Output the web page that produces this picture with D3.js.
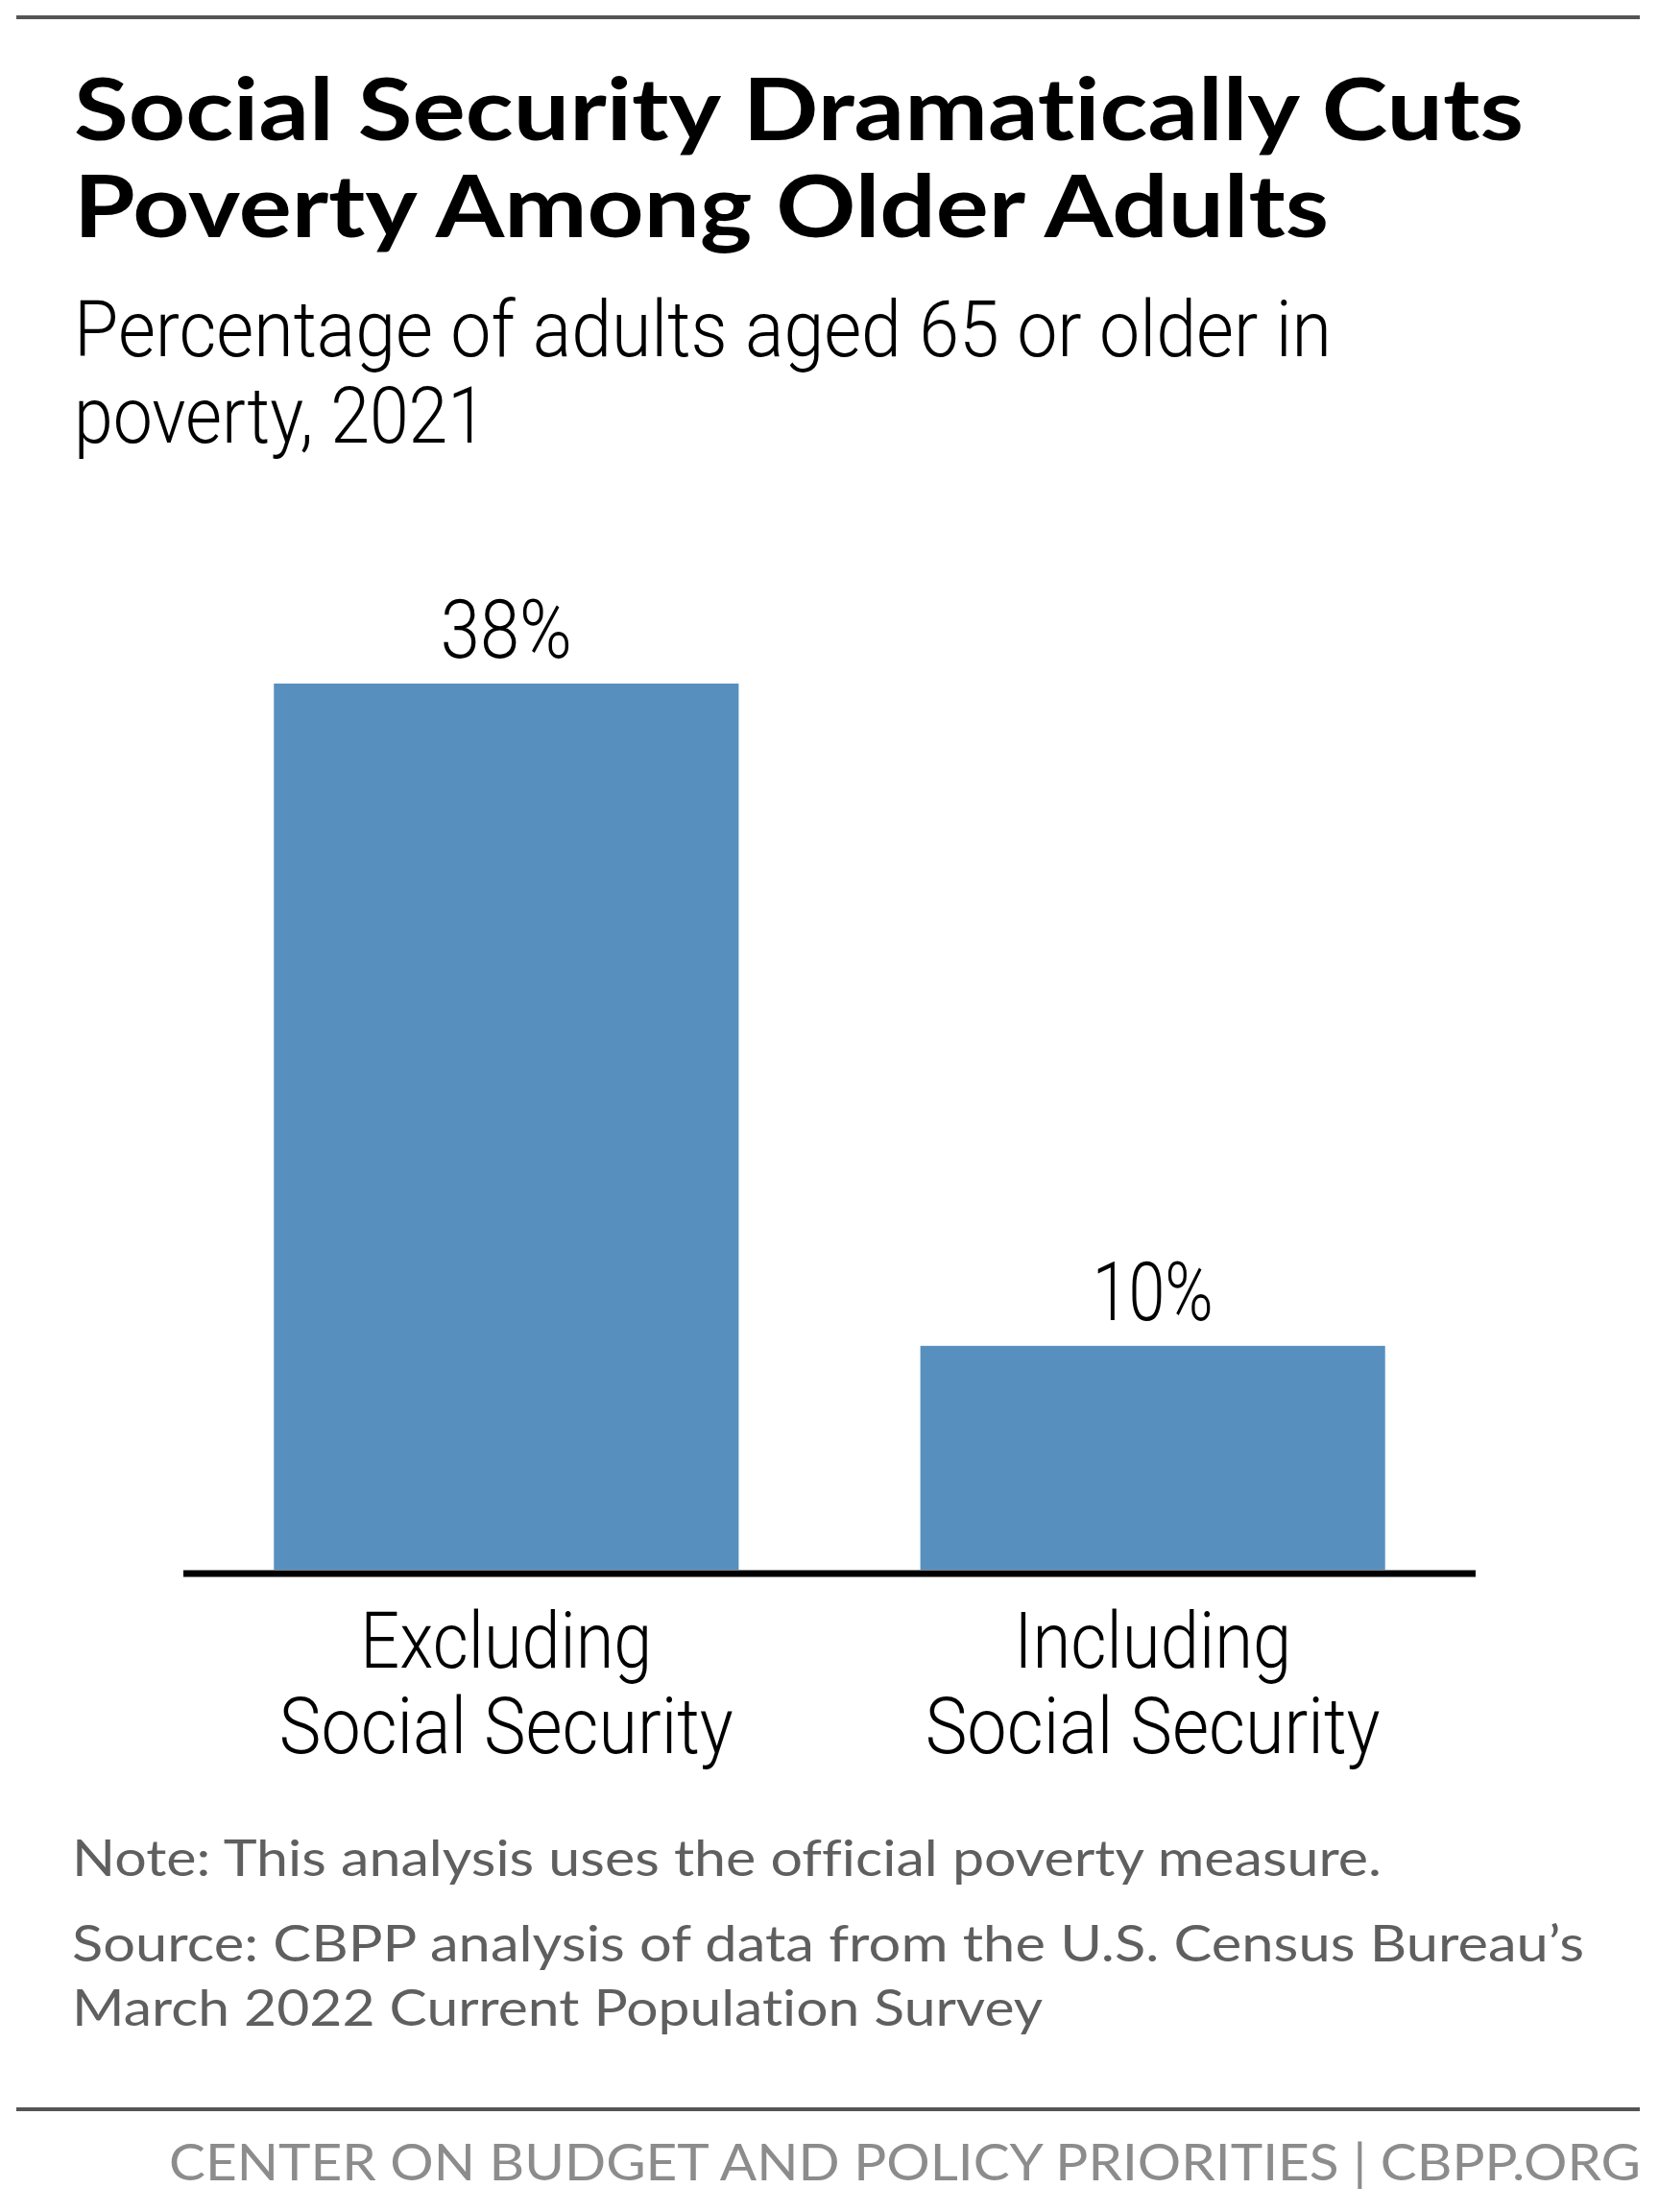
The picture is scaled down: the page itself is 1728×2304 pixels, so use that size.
<!DOCTYPE html>
<html>
<head>
<meta charset="utf-8">
<script src="https://cdn.jsdelivr.net/npm/d3@7"></script>
<style>
  body { margin: 0; background: #fff; }
  svg { display: block; }
  text { font-variant-ligatures: none; font-feature-settings: "liga" 0, "clig" 0; }
</style>
</head>
<body>
<svg id="chart" width="1728" height="2304"></svg>
<script>
// data
const categories = [["Excluding", "Social Security"], ["Including", "Social Security"]];
const values = [38, 9.6];
const titleLines = ["Social Security Dramatically Cuts", "Poverty Among Older Adults"];
const subtitleLines = ["Percentage of adults aged 65 or older in", "poverty, 2021"];
const noteLines = ["Note: This analysis uses the official poverty measure."];
const sourceLines = ["Source: CBPP analysis of data from the U.S. Census Bureau\u2019s", "March 2022 Current Population Survey"];
const footer = "CENTER ON BUDGET AND POLICY PRIORITIES | CBPP.ORG";

const width = 1728, height = 2304;
const svg = d3.select("#chart");

svg.append("rect").attr("width", width).attr("height", height).attr("fill", "#fff");

// squeeze text to the width seen in the original
function fit(sel, w) {
  sel.attr("textLength", w).attr("lengthAdjust", "spacingAndGlyphs");
}

// top and bottom rules
svg.append("line").attr("x1", 17).attr("x2", 1708).attr("y1", 18).attr("y2", 18)
  .attr("stroke", "#555").attr("stroke-width", 4);
svg.append("line").attr("x1", 17).attr("x2", 1708).attr("y1", 2197).attr("y2", 2197)
  .attr("stroke", "#555").attr("stroke-width", 4);

// title
const titleW = [1510, 1307];
titleLines.forEach((t, i) => {
  svg.append("text").attr("x", 77).attr("y", 146 + i * 101)
    .attr("font-family", "Lato, 'Open Sans', sans-serif").attr("font-weight", 700)
    .attr("font-size", 90).attr("fill", "#000").text(t)
    .call(fit, titleW[i]);
});

// subtitle
const subW = [1310, 430];
subtitleLines.forEach((t, i) => {
  svg.append("text").attr("x", 77).attr("y", 371 + i * 90)
    .attr("font-family", "Roboto, sans-serif").attr("font-weight", 300)
    .attr("font-size", 81).attr("fill", "#000").text(t)
    .call(fit, subW[i]);
});

// scales
const x = d3.scaleBand(d3.range(values.length), [191, 1537])
  .paddingInner(0.281).paddingOuter(0.14);
const y = d3.scaleLinear([0, 38], [1635, 712]);

// bars
svg.selectAll("rect.bar").data(values).join("rect")
  .attr("class", "bar")
  .attr("x", (d, i) => x(i))
  .attr("width", x.bandwidth())
  .attr("y", d => y(d))
  .attr("height", d => y(0) - y(d))
  .attr("fill", "#5790bf");

// value labels
const fmt = d => d3.format(".0f")(d) + "%";
const valW = [137, 126];
svg.selectAll("text.val").data(values).join("text")
  .attr("class", "val")
  .attr("x", (d, i) => x(i) + x.bandwidth() / 2)
  .attr("y", d => y(d) - 27)
  .attr("text-anchor", "middle")
  .attr("font-family", "Roboto, sans-serif").attr("font-weight", 300)
  .attr("font-size", 86).attr("fill", "#000")
  .text(fmt)
  .each(function(d, i) { d3.select(this).call(fit, valW[i]); });

// baseline axis
const gx = svg.append("g").attr("transform", `translate(0,${y(0) + 4})`)
  .call(d3.axisBottom(x).tickSize(0).tickFormat(""));
gx.select(".domain").attr("stroke", "#000").attr("stroke-width", 7)
  .attr("d", "M191,0H1537");

// category labels
const catW = [[304, 473], [289, 474]];
categories.forEach((lines, i) => {
  lines.forEach((t, j) => {
    svg.append("text")
      .attr("x", x(i) + x.bandwidth() / 2)
      .attr("y", 1737 + j * 89)
      .attr("text-anchor", "middle")
      .attr("font-family", "Roboto, sans-serif").attr("font-weight", 300)
      .attr("font-size", 82).attr("fill", "#000").text(t)
      .call(fit, catW[i][j]);
  });
});

// note and source
const noteW = [1364];
noteLines.forEach((t, i) => {
  svg.append("text").attr("x", 75).attr("y", 1954 + i * 67)
    .attr("font-family", "Lato, sans-serif").attr("font-size", 52)
    .attr("fill", "#5f5f5f").text(t).call(fit, noteW[i]);
});
const srcW = [1575, 1011];
sourceLines.forEach((t, i) => {
  svg.append("text").attr("x", 75).attr("y", 2043 + i * 67)
    .attr("font-family", "Lato, sans-serif").attr("font-size", 52)
    .attr("fill", "#5f5f5f").text(t).call(fit, srcW[i]);
});

// footer
svg.append("text").attr("x", 1709).attr("y", 2271).attr("text-anchor", "end")
  .attr("font-family", "Lato, sans-serif").attr("font-size", 53)
  .attr("fill", "#8c8c8c").text(footer).call(fit, 1533);
</script>
</body>
</html>
